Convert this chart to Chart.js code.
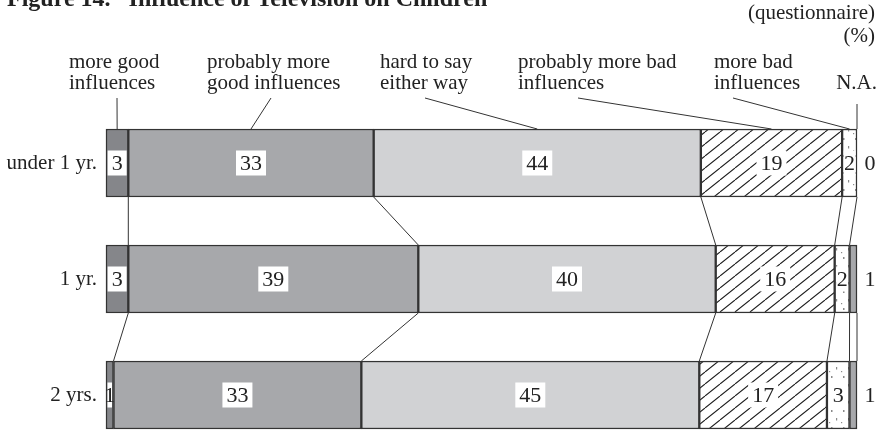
<!DOCTYPE html>
<html>
<head>
<meta charset="utf-8">
<script src="https://cdn.jsdelivr.net/npm/chart.js@4.4.1/dist/chart.umd.min.js"></script>
<style>
  html, body { margin: 0; padding: 0; background: #fff; }
  #wrap { width: 882px; height: 434px; }
</style>
</head>
<body>
<div id="wrap"><canvas id="tv-chart" width="882" height="434"></canvas></div>
<script>
// Age groups and answer shares (%)
const groups = ['under 1 yr.', '1 yr.', '2 yrs.'];
const moreGood = [3, 3, 1];
const probGood = [33, 39, 33];
const hardToSay = [44, 40, 45];
const probBad = [19, 16, 17];
const moreBad = [2, 2, 3];
const noAnswer = [0, 1, 1];

const seriesLabels = [
    ['more good', 'influences'],
    ['probably more', 'good influences'],
    ['hard to say', 'either way'],
    ['probably more bad', 'influences'],
    ['more bad', 'influences'],
    ['N.A.']
];

const SERIF = "'Liberation Serif', 'DejaVu Serif', serif";
const INK = '#222';

// header text position and where its leader line starts
const headerPos = [
    { x: 69, align: 'left', lx: 117, ly: 98 },
    { x: 207, align: 'left', lx: 271, ly: 98 },
    { x: 380, align: 'left', lx: 425, ly: 98 },
    { x: 518, align: 'left', lx: 578, ly: 98 },
    { x: 714, align: 'left', lx: 733, ly: 98 },
    { x: 877, align: 'right', lx: 857, ly: 104 }
];

const rawSeries = [moreGood, probGood, hardToSay, probBad, moreBad, noAnswer];
const rowTotals = groups.map((g, i) => rawSeries.reduce((s, arr) => s + arr[i], 0));
// each bar is scaled to its own total so every row fills the width
const shares = rawSeries.map(arr => arr.map((v, i) => v / rowTotals[i] * 100));

function hatchPattern() {
    const c = document.createElement('canvas');
    c.width = 15; c.height = 12;
    const g = c.getContext('2d');
    g.fillStyle = '#fff';
    g.fillRect(0, 0, 15, 12);
    g.strokeStyle = '#1e1e1e';
    g.lineWidth = 1.1;
    g.beginPath();
    for (let k = -1; k <= 1; k++) {
        g.moveTo(k * 15, 12);
        g.lineTo(k * 15 + 15, 0);
    }
    g.stroke();
    return g.createPattern(c, 'repeat');
}

function dotPattern() {
    const c = document.createElement('canvas');
    c.width = 12; c.height = 17;
    const g = c.getContext('2d');
    g.fillStyle = '#fff';
    g.fillRect(0, 0, 12, 17);
    g.fillStyle = '#8a8a8a';
    g.fillRect(3, 2, 1.5, 2);
    g.fillRect(8, 10, 1.2, 2.5);
    g.fillRect(1, 14, 1.2, 1.2);
    return g.createPattern(c, 'repeat');
}

const fills = ['#85868a', '#a7a8ab', '#d1d2d4', hatchPattern(), dotPattern(), '#a7a8ab'];

// connectors, leader lines, value boxes and header texts
const overlay = {
    id: 'overlay',
    afterDatasetsDraw(chart) {
        const ctx = chart.ctx;
        const xs = chart.scales.x;
        const bars = chart.getDatasetMeta(0).data;
        const top = i => bars[i].y - bars[i].height / 2;
        const bottom = i => bars[i].y + bars[i].height / 2;

        ctx.save();
        ctx.strokeStyle = '#333';
        ctx.lineWidth = 1;

        // lines joining the segment boundaries of neighbouring bars
        for (let r = 0; r < groups.length - 1; r++) {
            let cumA = 0, cumB = 0;
            for (let k = 0; k < shares.length; k++) {
                cumA += shares[k][r];
                cumB += shares[k][r + 1];
                if (rawSeries[k][r] === 0) continue;
                ctx.beginPath();
                ctx.moveTo(xs.getPixelForValue(cumA), bottom(r));
                ctx.lineTo(xs.getPixelForValue(cumB), top(r + 1));
                ctx.stroke();
            }
        }

        // leader lines from the headers down to the first bar
        let cum = 0;
        shares.forEach((arr, k) => {
            const mid = cum + arr[0] / 2;
            cum += arr[0];
            const h = headerPos[k];
            ctx.beginPath();
            ctx.moveTo(h.lx, h.ly);
            ctx.lineTo(xs.getPixelForValue(mid), top(0));
            ctx.stroke();
        });

        // values inside the segments on white boxes
        ctx.font = '22px ' + SERIF;
        ctx.textAlign = 'center';
        ctx.textBaseline = 'middle';
        for (let k = 0; k < rawSeries.length - 1; k++) {
            chart.getDatasetMeta(k).data.forEach((el, i) => {
                const txt = String(rawSeries[k][i]);
                const cx = (el.x + el.base) / 2;
                const segW = Math.abs(el.x - el.base);
                const w = Math.min(ctx.measureText(txt).width + 8, segW - 3);
                ctx.fillStyle = '#fff';
                ctx.fillRect(cx - w / 2, el.y - 12.5, w, 25);
                ctx.fillStyle = INK;
                ctx.fillText(txt, cx, el.y + 1);
            });
        }
        // N.A. values sit outside the bars
        noAnswer.forEach((v, i) => {
            ctx.fillStyle = INK;
            ctx.fillText(String(v), 870, bars[i].y + 1);
        });
        ctx.restore();
    },
    afterDraw(chart) {
        const ctx = chart.ctx;
        ctx.save();
        ctx.fillStyle = INK;
        ctx.textBaseline = 'alphabetic';

        ctx.font = 'bold 24px ' + SERIF;
        ctx.textAlign = 'left';
        ctx.fillText('Figure 14.   Influence of Television on Children', 7, 6);

        ctx.font = '21px ' + SERIF;
        ctx.textAlign = 'right';
        ctx.fillText('(questionnaire)', 875, 19);
        ctx.fillText('(%)', 875, 42);

        seriesLabels.forEach((lines, k) => {
            const h = headerPos[k];
            ctx.textAlign = h.align;
            if (lines.length === 1) {
                ctx.fillText(lines[0], h.x, 89);
            } else {
                lines.forEach((t, j) => ctx.fillText(t, h.x, 68 + j * 21));
            }
        });
        ctx.restore();
    }
};

const datasets = shares.map((arr, k) => ({
    label: seriesLabels[k].join(' '),
    data: arr,
    backgroundColor: fills[k],
    borderColor: '#333',
    borderWidth: 1.5,
    borderSkipped: false,
    barThickness: 68,
    clip: false
}));

new Chart(document.getElementById('tv-chart'), {
    type: 'bar',
    data: { labels: groups, datasets: datasets },
    options: {
        indexAxis: 'y',
        responsive: false,
        animation: false,
        devicePixelRatio: 1,
        layout: { padding: { top: 163, bottom: 39, right: 25, left: 0 } },
        plugins: {
            legend: { display: false },
            tooltip: { enabled: false }
        },
        scales: {
            x: {
                stacked: true,
                min: 0,
                max: 100,
                display: false
            },
            y: {
                stacked: true,
                offset: false,
                grid: { display: false, drawTicks: false },
                border: { display: false },
                afterFit: s => { s.width = 106; },
                ticks: {
                    padding: 9,
                    color: INK,
                    font: { family: SERIF, size: 21 }
                }
            }
        }
    },
    plugins: [overlay]
});
</script>
</body>
</html>
